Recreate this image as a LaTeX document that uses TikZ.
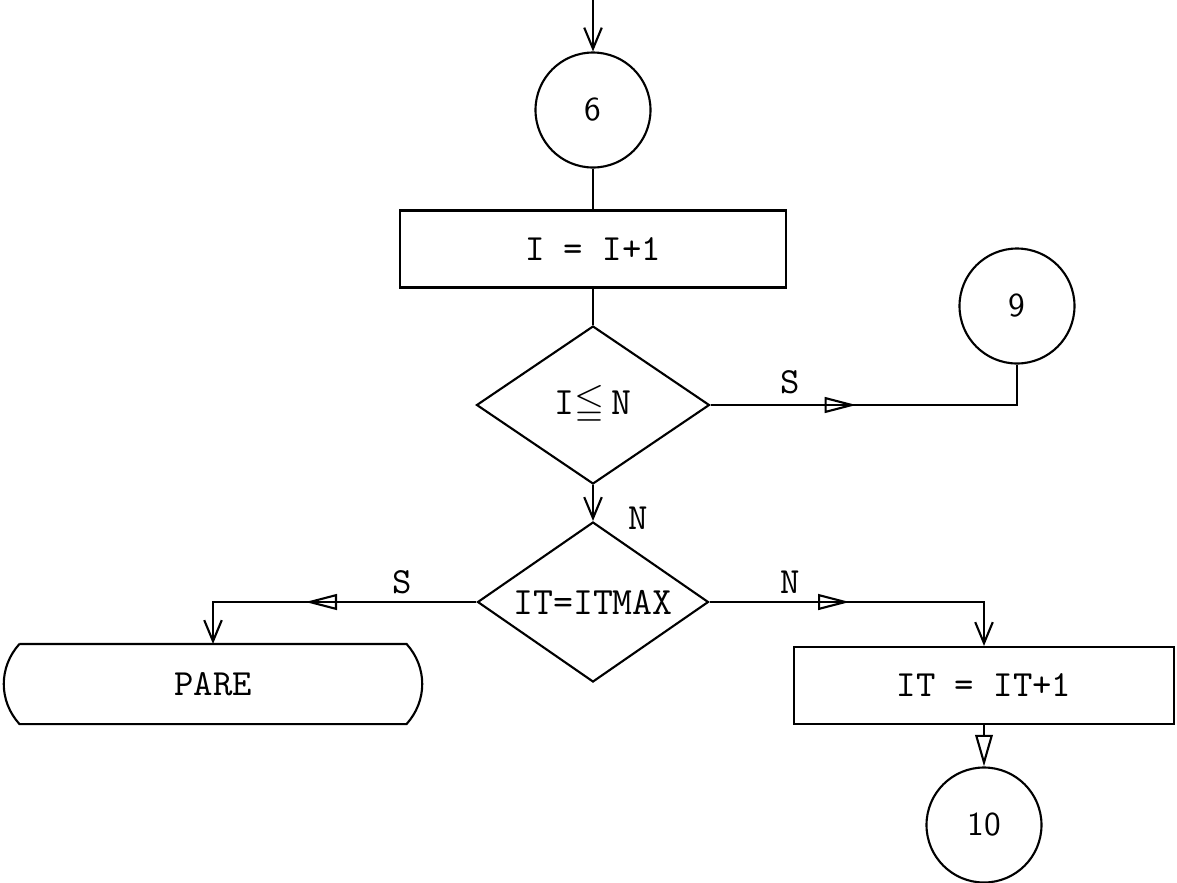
\documentclass[tikz,border=0pt]{standalone}
\usepackage{amssymb}
\usetikzlibrary{shapes.geometric,arrows.meta,decorations.markings}

\tikzset{
  conn/.style={circle, draw, minimum size=1.15cm, inner sep=0pt,
    font=\fontsize{9.5}{11}\sffamily},
  proc/.style={rectangle, draw, minimum height=0.77cm,
    font=\fontsize{10.5}{12}\ttfamily},
  test/.style={diamond, draw, aspect=1.5, minimum width=2.33cm,
    minimum height=1.58cm, inner sep=0pt, font=\fontsize{11}{13}\ttfamily},
  lbl/.style={font=\fontsize{10.5}{12}\ttfamily},
  flow/.style={-{Straight Barb[length=6pt,width=5pt]}},
  midarrow/.style={postaction={decorate,decoration={markings,
    mark=at position #1 with {\arrow{Triangle[open,length=9pt,width=4.5pt]}}}}}
}

\begin{document}
\begin{tikzpicture}[line width=0.6pt]
  \useasboundingbox (0,0) rectangle (11.77,-8.83);

  % main column
  \coordinate (entry) at (5.93,0);
  \node[conn] (c6) at (5.93,-1.10) {6};
  \node[proc, minimum width=3.86cm] (inci) at (5.93,-2.49) {I = I+1};
  \node[test] (testn) at (5.93,-4.05) {I$\leqq$\,N};
  \node[test, minimum width=2.31cm, minimum height=1.6cm] (testmax) at (5.93,-6.02) {IT=ITMAX};

  % branches
  \node[conn] (c9) at (10.17,-3.06) {9};
  \node[minimum width=3.85cm, minimum height=0.78cm, inner sep=0pt,
    font=\fontsize{10.5}{12}\ttfamily] (pare) at (2.13,-6.84) {PARE};
  \draw (pare.north west) -- (pare.north east) to[bend left=42] (pare.south east)
    -- (pare.south west) to[bend left=42] (pare.north west);
  \node[proc, minimum width=3.80cm] (incit) at (9.84,-6.855) {IT = IT+1};
  \node[conn] (c10) at (9.84,-8.25) {10};

  % labels
  \node[lbl] (ls1) at (7.90,-3.82) {S};
  \node[lbl] (ln1) at (6.38,-5.18) {N};
  \node[lbl] (ls2) at (4.02,-5.82) {S};
  \node[lbl] (ln2) at (7.90,-5.82) {N};

  % connectors
  \draw[flow] (entry) -- (c6);
  \draw (c6) -- (inci);
  \draw (inci) -- (testn);
  \draw[midarrow=0.42] (testn.east) -| (c9.south);
  \draw[flow] (testn.south) -- (testmax.north);
  \draw[flow, midarrow=0.56] (testmax.west) -| (pare.north);
  \draw[flow, midarrow=0.44] (testmax.east) -| (incit.north);
  \draw[-{Triangle[open,length=9pt,width=5pt]}] (incit) -- (c10);
\end{tikzpicture}
\end{document}
